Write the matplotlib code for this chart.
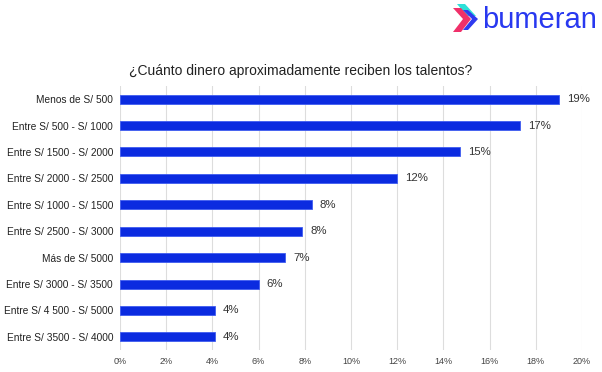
import matplotlib
matplotlib.use('Agg')
import matplotlib.pyplot as plt
from matplotlib.patches import Polygon

plt.rcParams['font.family'] = ['Liberation Sans', 'DejaVu Sans']

categories = ['Menos de S/ 500', 'Entre S/ 500 - S/ 1000', 'Entre S/ 1500 - S/ 2000',
              'Entre S/ 2000 - S/ 2500', 'Entre S/ 1000 - S/ 1500', 'Entre S/ 2500 - S/ 3000',
              'Más de S/ 5000', 'Entre S/ 3000 - S/ 3500', 'Entre S/ 4 500 - S/ 5000',
              'Entre S/ 3500 - S/ 4000']
values = [19.0, 17.3, 14.7, 12.0, 8.3, 7.9, 7.15, 6.0, 4.1, 4.1]
labels = ['19%', '17%', '15%', '12%', '8%', '8%', '7%', '6%', '4%', '4%']
xticks = [0, 2, 4, 6, 8, 10, 12, 14, 16, 18, 20]

fig = plt.figure(figsize=(6.02, 3.72), dpi=100)
ax = fig.add_axes([0.1993, 0.059, 0.7675, 0.71])

y = list(range(len(categories)))
ax.barh(y, values, height=0.34, color='#0B2BE0', edgecolor='#3F5CF0', linewidth=0.6, zorder=3)
for yi, v, lab in zip(y, values, labels):
    ax.text(v + 0.35, yi, lab, va='center', ha='left', fontsize=8.2, color='#333333')

ax.set_ylim(len(categories) - 0.5, -0.5)
ax.set_xlim(0, 20)
ax.set_yticks(y)
ax.set_yticklabels(categories, fontsize=7.3, color='#222222')
ax.set_xticks(xticks)
ax.set_xticklabels([f'{t}%' for t in xticks], fontsize=6.5, color='#444444')
ax.tick_params(length=0, pad=5)
ax.grid(axis='x', color='#DDDDDD', linewidth=0.8, zorder=0)
for s in ax.spines.values():
    s.set_visible(False)

fig.text(0.5, 0.81, '¿Cuánto dinero aproximadamente reciben los talentos?',
         ha='center', va='center', fontsize=10, color='#222222')

# logo
fig.text(0.801, 0.947, 'bumeran', ha='left', va='center', fontsize=21, color='#2838F0')
W, H = 602, 372
def P(pts):
    return [(x / W, 1 - yy / H) for x, yy in pts]
fig.patches.append(Polygon(P([(457, 4), (465, 4), (476, 16), (467, 16)]), closed=True,
                           facecolor='#2EE0D8', edgecolor='none', transform=fig.transFigure))
fig.patches.append(Polygon(P([(453, 8), (461, 8), (471, 19), (461, 32), (453, 32), (463, 19)]),
                           closed=True, facecolor='#F0306A', edgecolor='none',
                           transform=fig.transFigure))
fig.patches.append(Polygon(P([(463, 10), (468, 10), (478, 19), (468, 30), (463, 30), (472, 19)]),
                           closed=True, facecolor='#2E3AF0', edgecolor='none',
                           transform=fig.transFigure))

fig.savefig('out.png', dpi=100)
